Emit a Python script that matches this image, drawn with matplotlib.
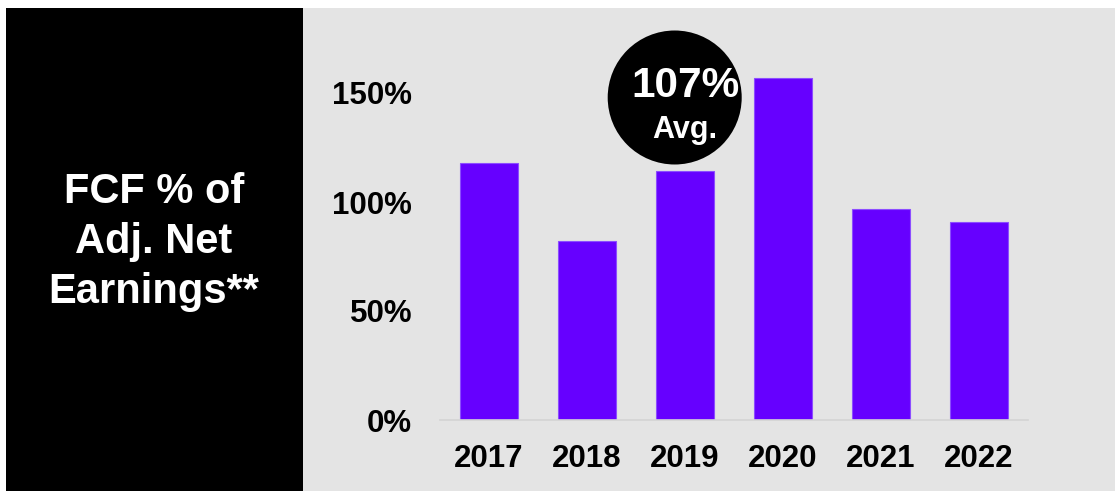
import matplotlib.pyplot as plt
from matplotlib.patches import Rectangle, Ellipse

plt.rcParams['font.family'] = ['Liberation Sans', 'DejaVu Sans']
plt.rcParams['font.weight'] = 'bold'

# FCF as a share of adjusted net earnings, by year
years = ['2017', '2018', '2019', '2020', '2021', '2022']
fcf_pct = [118, 82, 114, 157, 97, 91]
avg_label = '107%'
y_ticks = [0, 50, 100, 150]
panel_title = 'FCF % of\nAdj. Net\nEarnings**'

W, H = 1115, 491
fig = plt.figure(figsize=(W / 100, H / 100), dpi=100, facecolor='white')

def fx(px):
    return px / W

def fy(py):
    # pixel rows are counted from the top
    return 1 - py / H

# grey chart area and black title panel
fig.add_artist(Rectangle((fx(303), 0), fx(W - 303), fy(8), transform=fig.transFigure,
                         facecolor='#e4e4e4', edgecolor='none', zorder=0))
fig.add_artist(Rectangle((fx(6), 0), fx(297), fy(8), transform=fig.transFigure,
                         facecolor='black', edgecolor='none', zorder=0))
fig.text(fx(154), fy(242), panel_title, color='white', fontsize=30, fontweight='bold',
         ha='center', va='center', linespacing=1.31)

# bar chart
ax = fig.add_axes([fx(440), fy(420), fx(588), (420 - 71.2) / H])
ax.set_facecolor('none')
x = range(len(years))
ax.bar(x, fcf_pct, width=0.59, color='#6600ff', edgecolor='#8c4dff', linewidth=0.8)
ax.set_xlim(-0.5, len(years) - 0.5)
ax.set_ylim(0, 160)
ax.set_xticks(list(x))
ax.set_xticklabels(years, fontsize=22.5, fontweight='bold')
ax.set_yticks(y_ticks)
ax.set_yticklabels([f'{v}%' for v in y_ticks], fontsize=22.5, fontweight='bold')
ax.tick_params(axis='both', length=0)
ax.tick_params(axis='y', pad=20)
ax.tick_params(axis='x', pad=17)
for side in ['top', 'right', 'left']:
    ax.spines[side].set_visible(False)
ax.spines['bottom'].set_color('#d4d4d4')
ax.spines['bottom'].set_linewidth(1.2)

# average badge
fig.add_artist(Ellipse((fx(674.7), fy(97.5)), fx(134), 134 / H, transform=fig.transFigure,
                       facecolor='black', edgecolor='none', zorder=5))
fig.text(fx(686), fy(86), avg_label, color='white', fontsize=30.5, fontweight='bold',
         ha='center', va='center', zorder=6)
fig.text(fx(685), fy(130), 'Avg.', color='white', fontsize=22, fontweight='bold',
         ha='center', va='center', zorder=6)

fig.savefig('out.png', dpi=100, facecolor='white')
